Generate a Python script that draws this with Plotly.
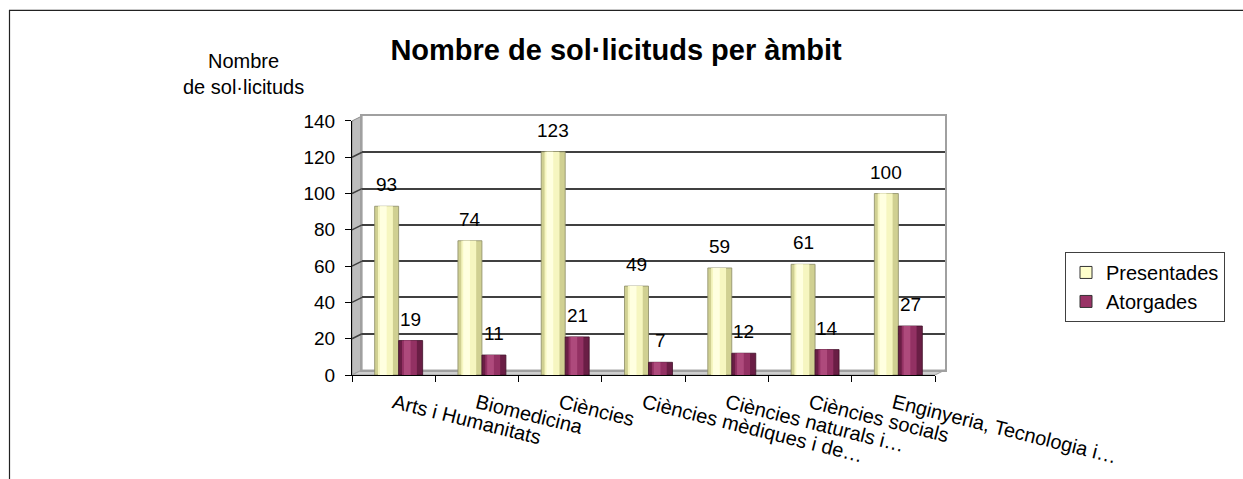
import plotly.graph_objects as go

# ---- data ----
categories = ["Arts i Humanitats", "Biomedicina", "Ciències",
              "Ciències mèdiques i de…", "Ciències naturals i…",
              "Ciències socials", "Enginyeria, Tecnologia i…"]
presentades = [93, 74, 123, 49, 59, 61, 100]
atorgades = [19, 11, 21, 7, 12, 14, 27]
y_ticks = [0, 20, 40, 60, 80, 100, 120, 140]

# ---- geometry (pixels) ----
W, H = 1243, 479
L, R, T, B = 352, 298, 116, 102
PW, PH = W - L - R, H - T - B          # 593 x 261
DX, DY = 10, 5                          # 3D depth offset
FRONT_W, FRONT_H = PW - DX, PH - DY
px_per_unit = FRONT_H / 140.0

def px_x(x):
    return (x - L) / PW

def px_y(y):
    return (H - B - y) / PH

BAR_W = 0.288
OFF_P = -0.228
OFF_A = OFF_P + BAR_W

idx = list(range(len(categories)))

fig = go.Figure()

# back-wall subplot (xy) — only gridlines
fig.add_trace(go.Scatter(x=[], y=[], xaxis="x", yaxis="y", showlegend=False, hoverinfo="skip"))

def cylinder(vals, off, cols, name, legend_col):
    fig.add_trace(go.Bar(x=idx, y=vals, xaxis="x2", yaxis="y2", width=BAR_W, offset=off,
                         marker=dict(color=cols[0], line=dict(color=cols[3], width=0.8)),
                         showlegend=False, hoverinfo="skip"))
    fig.add_trace(go.Bar(x=idx, y=vals, xaxis="x2", yaxis="y2", width=BAR_W * 0.62,
                         offset=off + BAR_W * 0.14,
                         marker=dict(color=cols[1], line=dict(width=0)),
                         showlegend=False, hoverinfo="skip"))
    fig.add_trace(go.Bar(x=idx, y=vals, xaxis="x2", yaxis="y2", width=BAR_W * 0.28,
                         offset=off + BAR_W * 0.22,
                         marker=dict(color=cols[2], line=dict(width=0)),
                         showlegend=False, hoverinfo="skip"))
    fig.add_trace(go.Bar(x=[None], y=[None], xaxis="x2", yaxis="y2", name=name,
                         marker=dict(color=legend_col, line=dict(color="#333333", width=1))))

cylinder(presentades, OFF_P, ["#D0D092", "#F6F6C0", "#FFFFE0", "#8C8C66"], "Presentades", "#FFFFCC")
cylinder(atorgades, OFF_A, ["#6A1E45", "#933163", "#AE4A7C", "#401028"], "Atorgades", "#993366")

# data labels
for i, v in enumerate(presentades):
    fig.add_annotation(x=i + OFF_P + BAR_W / 2, y=v, xref="x2", yref="y2", text=str(v),
                       showarrow=False, yanchor="bottom", yshift=9,
                       font=dict(size=19, color="black"))
for i, v in enumerate(atorgades):
    fig.add_annotation(x=i + OFF_A + BAR_W / 2, y=v, xref="x2", yref="y2", text=str(v),
                       showarrow=False, yanchor="bottom", yshift=9,
                       font=dict(size=19, color="black"))

# side wall and floor
bx = DX / PW
by = DY / PH
fx = FRONT_W / PW
fy = FRONT_H / PH
fig.add_shape(type="path", xref="paper", yref="paper", layer="below",
              path=f"M 0 0 L 0 {fy} L {bx} 1 L {bx} {by} Z",
              fillcolor="#BDBDBD", line=dict(color="#8C8C8C", width=1))
fig.add_shape(type="path", xref="paper", yref="paper", layer="below",
              path=f"M 0 0 L {bx} {by} L 1 {by} L {fx} 0 Z",
              fillcolor="#CFCFCF", line=dict(color="#A0A0A0", width=1))
for v in y_ticks[1:]:
    fig.add_shape(type="line", xref="paper", yref="y2", x0=0, x1=bx,
                  y0=v, y1=v + DY / px_per_unit,
                  line=dict(color="#404040" if v < 140 else "#9A9A9A", width=1.5))

# outer frame
fig.add_shape(type="rect", xref="paper", yref="paper",
              x0=px_x(9.5), x1=px_x(1300), y0=px_y(9.5), y1=px_y(560),
              line=dict(color="#222222", width=1.2), fillcolor="rgba(0,0,0,0)")

# y axis title
fig.add_annotation(xref="paper", yref="paper", x=px_x(243), y=px_y(74),
                   xanchor="center", yanchor="middle",
                   text="Nombre<br>de sol·licituds", showarrow=False,
                   font=dict(size=20, color="black"), align="center")

fig.update_layout(
    width=W, height=H,
    margin=dict(l=L, r=R, t=T, b=B, pad=0),
    paper_bgcolor="white", plot_bgcolor="rgba(0,0,0,0)",
    font=dict(family="Liberation Sans, Arial, sans-serif", color="black"),
    barmode="overlay",
    title=dict(text="<b>Nombre de sol·licituds per àmbit</b>", xref="container", yref="container",
               x=616 / W, y=1 - 50 / H, xanchor="center", yanchor="middle",
               font=dict(size=29, color="black")),
    showlegend=True,
    legend=dict(x=px_x(1065), y=px_y(253), xanchor="left", yanchor="top",
                bordercolor="#404040", borderwidth=1, bgcolor="white",
                font=dict(size=20), traceorder="normal", itemwidth=30),
    xaxis=dict(domain=[bx, 1], range=[0, 1], showgrid=False, zeroline=False,
               showticklabels=False, ticks="", showline=True, mirror=True,
               linecolor="#A0A0A0", linewidth=1.5, anchor="y"),
    yaxis=dict(domain=[by, 1], range=[0, 140], tickmode="array", tickvals=y_ticks[1:-1],
               showgrid=True, gridcolor="#404040", gridwidth=1.5, zeroline=False,
               showticklabels=False, ticks="", showline=True, mirror=True,
               linecolor="#A0A0A0", linewidth=1.5, anchor="x"),
    xaxis2=dict(domain=[0, fx], range=[-0.5, len(categories) - 0.5], anchor="y2",
                tickmode="array", tickvals=idx, ticktext=categories, tickangle=14,
                ticks="", showgrid=False, zeroline=False, showline=True,
                linecolor="black", linewidth=1, tickfont=dict(size=20),
                ticklabelstandoff=8,
                minor=dict(tickmode="array", tickvals=[i - 0.5 for i in range(len(categories) + 1)],
                           ticks="outside", ticklen=6, tickcolor="black", tickwidth=1, showgrid=False)),
    yaxis2=dict(domain=[0, fy], range=[0, 140], anchor="x2", tickmode="array",
                tickvals=y_ticks, ticks="outside", ticklen=6, tickcolor="black",
                showgrid=False, zeroline=False, showline=True, linecolor="black",
                linewidth=1, tickfont=dict(size=19), ticklabelstandoff=6),
)

fig.write_html("out.html", config={"displayModeBar": False},
               post_script="document.body.style.margin='0';document.body.style.overflow='hidden';")
